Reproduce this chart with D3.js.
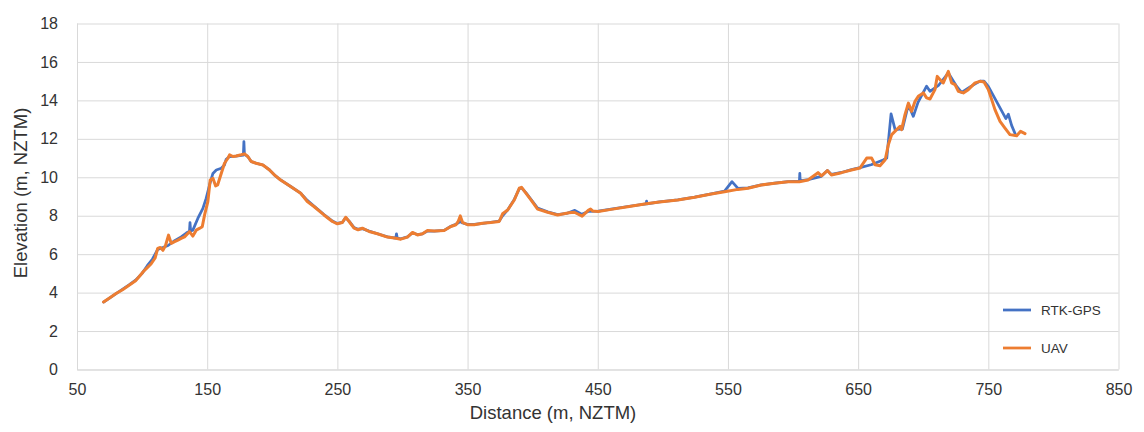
<!DOCTYPE html>
<html>
<head>
<meta charset="utf-8">
<script src="https://cdn.jsdelivr.net/npm/d3@7"></script>
<style>
  html, body { margin: 0; padding: 0; background: #fff; }
  svg { display: block; font-family: "Liberation Sans", Arial, sans-serif; }
</style>
</head>
<body>
<svg id="chart" width="1144" height="432"></svg>
<script>
// Elevation profile along the transect: RTK-GPS survey vs UAV-derived surface
const rtkDistance = [70.4, 80, 90, 95, 100, 104, 108, 112, 116, 120, 125, 130, 134, 136.4, 136.8, 137.3, 139, 142.8, 146.7, 149.2, 151.8, 154.4, 157, 160.8, 163.3, 164.6, 167.2, 172, 177.8, 178.2, 178.6, 181.2, 183.8, 187.6, 192.8, 197.9, 202, 206.4, 214.1, 221.8, 226.9, 232, 239.7, 246.2, 250, 253.8, 256.4, 259, 262.8, 265.9, 269.2, 274.4, 280.8, 288.5, 294.9, 295.4, 296, 298.7, 303.8, 307.7, 311.5, 315.4, 319.2, 324.4, 332, 337.2, 341, 344.4, 346.2, 350, 355.1, 361.5, 367.9, 374.3, 376.9, 380.8, 385.9, 389.7, 391.5, 394.8, 398.7, 403.8, 411.5, 419.2, 426, 432.4, 437.6, 442.7, 450.4, 460.3, 473, 487.2, 487.5, 487.8, 497.4, 511.5, 524.4, 537.2, 547.4, 553.1, 557.7, 565.4, 575.6, 585.9, 596.2, 604.9, 605.2, 605.5, 611.5, 621.8, 626.4, 629.5, 637.2, 644.9, 651.4, 660, 669.2, 672, 675.3, 678.4, 682, 684, 688.6, 692.4, 696, 702.6, 705.2, 712, 719.3, 725.7, 729.5, 736, 743.6, 746.7, 750, 763.5, 765.4, 767.9, 771];
const rtkElevation = [3.51, 3.95, 4.40, 4.65, 5.0, 5.4, 5.75, 6.25, 6.35, 6.45, 6.7, 6.9, 7.1, 7.2, 7.64, 7.2, 7.25, 7.86, 8.38, 8.9, 9.6, 10.2, 10.38, 10.47, 10.64, 10.94, 11.08, 11.1, 11.15, 11.86, 11.2, 11.08, 10.82, 10.73, 10.64, 10.38, 10.1, 9.86, 9.52, 9.17, 8.8, 8.5, 8.06, 7.72, 7.6, 7.65, 7.9, 7.72, 7.38, 7.3, 7.33, 7.2, 7.06, 6.9, 6.84, 7.06, 6.84, 6.8, 6.9, 7.1, 7.02, 7.06, 7.2, 7.2, 7.24, 7.45, 7.55, 7.7, 7.62, 7.55, 7.55, 7.6, 7.66, 7.72, 8.0, 8.3, 8.85, 9.4, 9.45, 9.2, 8.85, 8.4, 8.2, 8.06, 8.12, 8.28, 8.08, 8.22, 8.24, 8.34, 8.48, 8.62, 8.76, 8.62, 8.72, 8.83, 8.97, 9.14, 9.28, 9.77, 9.42, 9.45, 9.6, 9.69, 9.77, 9.8, 10.2, 9.82, 9.88, 10.05, 10.35, 10.15, 10.25, 10.4, 10.5, 10.65, 10.9, 11.0, 13.3, 12.48, 12.5, 12.5, 13.78, 13.17, 13.9, 14.74, 14.47, 14.8, 15.43, 14.73, 14.42, 14.7, 15.0, 15.0, 14.73, 13.05, 13.28, 12.7, 12.2];

const uavDistance = [70.4, 75, 80, 85, 90, 95, 98, 101, 104, 107, 110, 112, 114, 116, 118, 120.3, 122.4, 125, 127.5, 130, 132.6, 136.4, 139, 141.6, 144, 146.2, 148, 150.5, 152.3, 154.4, 156.5, 158, 160, 163.3, 165.9, 167.2, 169.7, 172.3, 176.1, 178.7, 181.2, 183.8, 187.6, 192.8, 197.9, 202, 206.4, 214.1, 221.8, 226.9, 232, 239.7, 246.2, 250, 253.8, 256.4, 259, 262.8, 265.9, 269.2, 274.4, 280.8, 288.5, 294.9, 298.7, 303.8, 307.7, 311.5, 315.4, 319.2, 324.4, 332, 337.2, 341, 342.8, 344.4, 346.2, 350, 355.1, 361.5, 367.9, 374.3, 376.9, 380.8, 385.9, 389.7, 391.5, 394.8, 398.7, 403.8, 411.5, 419.2, 424, 428, 432, 438, 442.7, 444.5, 446, 450.4, 460.3, 473, 487.2, 497.4, 511.5, 524.4, 537.2, 547.4, 557.7, 565.4, 575.6, 585.9, 596.2, 604.9, 611.5, 619.2, 621.8, 626.4, 629.5, 637.2, 644.9, 651.4, 656.6, 660.4, 663, 666.8, 670.8, 673.2, 675.8, 679.6, 682.2, 683.4, 686, 688.6, 691.1, 693.7, 696.2, 700.1, 702.6, 705.2, 709, 710.8, 712.9, 715.4, 719.3, 721.8, 724.4, 727, 730.8, 734.6, 739.8, 743.6, 746.7, 750, 752.6, 755.1, 759, 762.8, 766.6, 771.8, 774.8, 778.2];
const uavElevation = [3.51, 3.72, 3.95, 4.15, 4.38, 4.62, 4.85, 5.1, 5.3, 5.5, 5.8, 6.3, 6.35, 6.2, 6.45, 6.99, 6.56, 6.65, 6.73, 6.82, 6.9, 7.17, 6.94, 7.25, 7.34, 7.43, 8.04, 8.73, 9.86, 9.95, 9.55, 9.6, 10.03, 10.73, 10.99, 11.17, 11.08, 11.11, 11.17, 11.22, 11.08, 10.82, 10.73, 10.64, 10.38, 10.1, 9.86, 9.52, 9.17, 8.74, 8.48, 8.04, 7.70, 7.58, 7.65, 7.92, 7.70, 7.35, 7.27, 7.35, 7.18, 7.06, 6.89, 6.83, 6.78, 6.89, 7.13, 7.0, 7.06, 7.23, 7.21, 7.23, 7.44, 7.53, 7.70, 7.99, 7.65, 7.53, 7.53, 7.61, 7.65, 7.70, 8.10, 8.30, 8.82, 9.43, 9.48, 9.17, 8.82, 8.34, 8.18, 8.04, 8.1, 8.15, 8.18, 7.98, 8.28, 8.35, 8.25, 8.22, 8.33, 8.47, 8.62, 8.71, 8.82, 8.96, 9.13, 9.25, 9.37, 9.43, 9.6, 9.69, 9.77, 9.77, 9.86, 10.24, 10.07, 10.35, 10.12, 10.24, 10.38, 10.48, 11.0, 11.0, 10.65, 10.6, 10.91, 11.69, 12.22, 12.48, 12.65, 12.48, 13.26, 13.86, 13.43, 13.95, 14.21, 14.39, 14.13, 14.07, 14.56, 15.25, 15.08, 14.91, 15.51, 14.91, 14.82, 14.47, 14.39, 14.56, 14.91, 14.99, 14.96, 14.56, 14.04, 13.52, 12.91, 12.56, 12.22, 12.16, 12.39, 12.27];

const xTicks = [50, 150, 250, 350, 450, 550, 650, 750, 850];
const yTicks = [0, 2, 4, 6, 8, 10, 12, 14, 16, 18];
const seriesNames = ["RTK-GPS", "UAV"];
const seriesColors = ["#4472C4", "#ED7D31"];

const svg = d3.select("#chart");
const margin = { left: 77, right: 1144 - 1118.5, top: 23.5, bottom: 432 - 369.5 };
const W = 1144, H = 432;

const x = d3.scaleLinear().domain([50, 850]).range([margin.left, W - margin.right]);
const y = d3.scaleLinear().domain([0, 18]).range([H - margin.bottom, margin.top]);

const textColor = "#333";
const gridColor = "#d9d9d9";

// horizontal gridlines
svg.append("g")
  .attr("transform", `translate(${margin.left},0)`)
  .call(d3.axisLeft(y).tickValues(yTicks).tickSize(-(W - margin.left - margin.right)).tickFormat(""))
  .call(g => g.select(".domain").remove())
  .call(g => g.selectAll("line").attr("stroke", gridColor).attr("stroke-width", 1));

// vertical gridlines
svg.append("g")
  .attr("transform", `translate(0,${H - margin.bottom})`)
  .call(d3.axisBottom(x).tickValues(xTicks).tickSize(-(H - margin.top - margin.bottom)).tickFormat(""))
  .call(g => g.select(".domain").remove())
  .call(g => g.selectAll("line").attr("stroke", gridColor).attr("stroke-width", 1));

// y tick labels
svg.append("g")
  .attr("transform", `translate(${margin.left},0)`)
  .call(d3.axisLeft(y).tickValues(yTicks).tickSize(0).tickPadding(19))
  .call(g => g.select(".domain").attr("stroke", gridColor))
  .call(g => g.selectAll("text").attr("fill", textColor).style("font-size", "16px").style("font-family", "Liberation Sans, Arial, sans-serif"));

// x tick labels
svg.append("g")
  .attr("transform", `translate(0,${H - margin.bottom})`)
  .call(d3.axisBottom(x).tickValues(xTicks).tickSize(0).tickPadding(14))
  .call(g => g.select(".domain").attr("stroke", gridColor))
  .call(g => g.selectAll("text").attr("fill", textColor).style("font-size", "16px").style("font-family", "Liberation Sans, Arial, sans-serif"));

// axis titles
svg.append("text")
  .attr("x", 553)
  .attr("y", 419)
  .attr("text-anchor", "middle")
  .attr("fill", textColor)
  .style("font-size", "18.5px")
  .text("Distance (m, NZTM)");

svg.append("text")
  .attr("transform", `translate(27,193) rotate(-90)`)
  .attr("text-anchor", "middle")
  .attr("fill", textColor)
  .style("font-size", "18.5px")
  .text("Elevation (m, NZTM)");

// series lines
const line = d3.line().x(d => x(d[0])).y(d => y(d[1]));
const rtk = rtkDistance.map((d, i) => [d, rtkElevation[i]]);
const uav = uavDistance.map((d, i) => [d, uavElevation[i]]);

svg.append("path").datum(rtk)
  .attr("d", line).attr("fill", "none")
  .attr("stroke", seriesColors[0]).attr("stroke-width", 2.75)
  .attr("stroke-linejoin", "round").attr("stroke-linecap", "round");

svg.append("path").datum(uav)
  .attr("d", line).attr("fill", "none")
  .attr("stroke", seriesColors[1]).attr("stroke-width", 3)
  .attr("stroke-linejoin", "round").attr("stroke-linecap", "round");

// legend
const legend = svg.append("g").attr("transform", "translate(1003,310)");
seriesNames.forEach((name, i) => {
  const g = legend.append("g").attr("transform", `translate(0,${i * 38})`);
  g.append("line").attr("x1", 0).attr("x2", 28).attr("y1", 0).attr("y2", 0)
    .attr("stroke", seriesColors[i]).attr("stroke-width", 2.75);
  g.append("text").attr("x", 38).attr("y", 0).attr("dy", "0.35em")
    .attr("fill", textColor).style("font-size", "13.5px").text(name);
});
</script>
</body>
</html>
